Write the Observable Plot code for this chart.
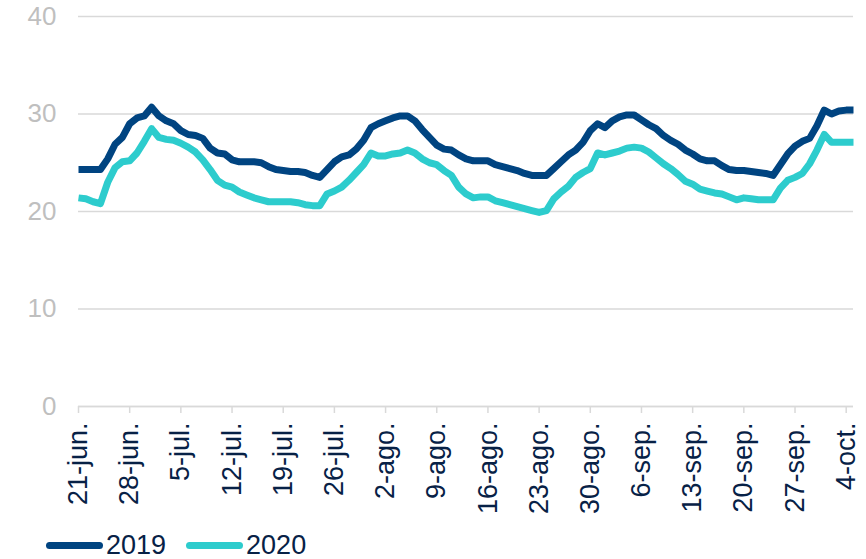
<!DOCTYPE html>
<html>
<head>
<meta charset="utf-8">
<script src="https://cdn.jsdelivr.net/npm/d3@7"></script>
<script src="https://cdn.jsdelivr.net/npm/@observablehq/plot@0.6"></script>
<style>
  html, body { margin: 0; padding: 0; background: #fff; }
  body { width: 866px; height: 559px; overflow: hidden; font-family: "Liberation Sans", Arial, sans-serif; }
  #legend { display: flex; align-items: center; height: 34px; padding-left: 46px; font-size: 27px; color: #072146; margin-top: 7px; }
  .item { display: flex; align-items: center; margin-right: 20px; }
  .sw { width: 57px; height: 7px; border-radius: 4px; margin-right: 3px; }
</style>
</head>
<body>
<div id="chart"></div>
<div id="legend"></div>
<script>
// Daily values starting 21-jun, ending 5-oct
const startDate = "2020-06-21";
const endDate = "2020-10-05";
const series2019 = [
  24.3,24.3,24.3,24.3,25.4,26.9,27.6,29.0,29.6,29.8,30.7,29.8,29.3,29.0,28.3,27.9,27.8,27.5,26.5,26.0,
  25.9,25.3,25.1,25.1,25.1,25.0,24.6,24.3,24.2,24.1,24.1,24.0,23.7,23.5,24.3,25.1,25.6,25.8,26.4,27.3,
  28.6,29.0,29.3,29.6,29.8,29.8,29.3,28.4,27.6,26.8,26.4,26.3,25.8,25.4,25.2,25.2,25.2,24.8,24.6,24.4,
  24.2,23.9,23.7,23.7,23.7,24.4,25.1,25.8,26.3,27.1,28.3,29.0,28.6,29.3,29.7,29.9,29.9,29.4,28.9,28.5,
  27.8,27.3,26.9,26.3,25.9,25.4,25.2,25.2,24.7,24.3,24.2,24.2,24.1,24.0,23.9,23.7,24.8,25.9,26.7,27.2,
  27.5,28.8,30.4,30.0,30.3,30.4,30.4
];
const series2020 = [
  21.4,21.3,21.0,20.8,23.0,24.5,25.1,25.2,26.0,27.2,28.5,27.6,27.4,27.3,27.0,26.6,26.1,25.3,24.3,23.2,
  22.7,22.5,22.0,21.7,21.4,21.2,21.0,21.0,21.0,21.0,20.9,20.7,20.6,20.6,21.8,22.1,22.5,23.2,24.0,24.8,
  26.0,25.7,25.7,25.9,26.0,26.3,26.0,25.4,25.0,24.8,24.2,23.7,22.5,21.8,21.4,21.5,21.5,21.1,20.9,20.7,
  20.5,20.3,20.1,19.9,20.1,21.3,22.0,22.6,23.5,24.0,24.4,26.0,25.8,26.0,26.2,26.5,26.6,26.5,26.1,25.5,
  24.9,24.4,23.8,23.1,22.8,22.3,22.1,21.9,21.8,21.5,21.2,21.4,21.3,21.2,21.2,21.2,22.4,23.2,23.5,23.9,
  24.9,26.3,27.9,27.1,27.1,27.1,27.1
];
const seriesNames = ["2019", "2020"];
const seriesColors = ["#004481", "#2DCCCD"];
const tickDates = ["2020-06-21","2020-06-28","2020-07-05","2020-07-12","2020-07-19","2020-07-26","2020-08-02",
  "2020-08-09","2020-08-16","2020-08-23","2020-08-30","2020-09-06","2020-09-13","2020-09-20","2020-09-27","2020-10-04"];
const tickLabels = ["21-jun.","28-jun.","5-jul.","12-jul.","19-jul.","26-jul.","2-ago.","9-ago.",
  "16-ago.","23-ago.","30-ago.","6-sep.","13-sep.","20-sep.","27-sep.","4-oct."];
const yTicks = [0, 10, 20, 30, 40];

const start = new Date(startDate + "T00:00:00Z");
const dates = d3.utcDay.range(start, d3.utcDay.offset(start, series2019.length));
const rows = [];
[series2019, series2020].forEach((s, k) => s.forEach((v, i) => rows.push({date: dates[i], value: v, series: seriesNames[k]})));
const tickDateObjs = tickDates.map(d => new Date(d + "T00:00:00Z"));
const labelFor = new Map(tickDateObjs.map((d, i) => [+d, tickLabels[i]]));

const chart = Plot.plot({
  width: 866,
  height: 521,
  marginLeft: 78,
  marginRight: 13,
  marginTop: 16,
  marginBottom: 115,
  style: {fontFamily: "'Liberation Sans', Arial, sans-serif", fontSize: "26px", background: "#fff"},
  x: {type: "utc", domain: [start, new Date(endDate + "T00:00:00Z")]},
  y: {domain: [0, 40]},
  color: {domain: seriesNames, range: seriesColors},
  marks: [
    Plot.gridY(yTicks, {stroke: "#D9D9D9", strokeOpacity: 1, strokeWidth: 1.5}),
    Plot.axisY(yTicks, {tickSize: 0, tickPadding: 22, fill: "#BFBFBF", fontSize: 26, label: null}),
    Plot.ruleY([0], {stroke: "#D9D9D9", strokeWidth: 1.5}),
    Plot.axisX(tickDateObjs, {tickSize: 7, stroke: "#D9D9D9", strokeWidth: 1.5, tickRotate: -90, tickPadding: 9,
      tickFormat: d => labelFor.get(+d), fill: "#072146", fontSize: 27, label: null}),
    Plot.line(rows, {x: "date", y: "value", z: "series", stroke: "series", strokeWidth: 7,
      strokeLinejoin: "round", strokeLinecap: "butt"})
  ]
});
document.getElementById("chart").append(chart);

const legend = document.getElementById("legend");
seriesNames.forEach((n, i) => {
  const it = document.createElement("div");
  it.className = "item";
  const sw = document.createElement("div");
  sw.className = "sw";
  sw.style.background = seriesColors[i];
  const t = document.createElement("span");
  t.textContent = n;
  it.append(sw, t);
  legend.append(it);
});
</script>
</body>
</html>
